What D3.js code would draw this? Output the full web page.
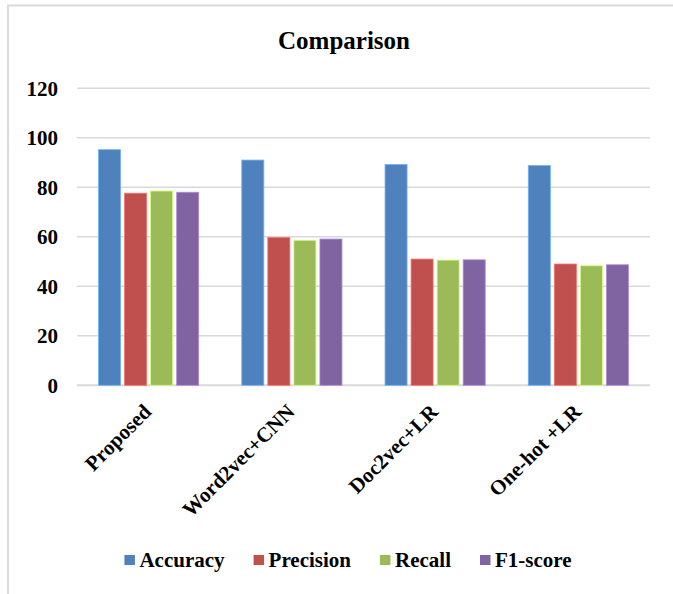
<!DOCTYPE html>
<html>
<head>
<meta charset="utf-8">
<script src="https://cdn.jsdelivr.net/npm/d3@7"></script>
<style>
  html, body { margin: 0; padding: 0; background: #fff; }
  svg { display: block; }
</style>
</head>
<body>
<svg id="chart" width="673" height="594"></svg>
<script>
// Methods compared, metric names and scores (%)
const categories = ["Proposed", "Word2vec+CNN", "Doc2vec+LR", "One-hot +LR"];
const seriesNames = ["Accuracy", "Precision", "Recall", "F1-score"];
const accuracy  = [95.2, 91.0, 89.2, 88.8];
const precision = [77.6, 59.7, 51.0, 49.0];
const recall    = [78.5, 58.6, 50.6, 48.3];
const f1score   = [78.0, 59.1, 50.7, 48.7];
const yTicks = [0, 20, 40, 60, 80, 100, 120];
const colors = ["#4F81BD", "#C0504D", "#9BBB59", "#8064A2"];

const seriesValues = [accuracy, precision, recall, f1score];
const FONT = "'Liberation Serif', Tinos, 'Times New Roman', 'DejaVu Serif', serif";

const svg = d3.select("#chart")
  .attr("font-family", FONT)
  .attr("font-weight", "bold");
const W = 673, H = 594;

// outer frame
svg.append("rect")
  .attr("x", 8).attr("y", 5.5)
  .attr("width", W + 10).attr("height", H + 10)
  .attr("fill", "#fff")
  .attr("stroke", "#d9d9d9").attr("stroke-width", 2);

// title
svg.append("text")
  .attr("x", 344).attr("y", 49)
  .attr("text-anchor", "middle")
  .attr("font-size", 25)
  .text("Comparison");

const plot = { left: 77, right: 650, top: 88.3, bottom: 385.3 };

const y = d3.scaleLinear().domain([0, 120]).range([plot.bottom, plot.top]);
const x0 = d3.scaleBand().domain(categories).range([plot.left, plot.right]).padding(0);
const x1 = d3.scaleBand().domain(seriesNames).range([0, x0.bandwidth()])
  .paddingInner(0).paddingOuter(0.75);

// horizontal gridlines
svg.append("g").selectAll("line")
  .data(yTicks)
  .join("line")
  .attr("x1", plot.left).attr("x2", plot.right)
  .attr("y1", d => y(d)).attr("y2", d => y(d))
  .attr("stroke", "#d9d9d9")
  .attr("stroke-width", d => d === 0 ? 2 : 1.6);

// y axis labels
const yAxis = d3.axisLeft(y).tickValues(yTicks).tickSize(0).tickPadding(0);
const yg = svg.append("g")
  .attr("transform", `translate(${plot.left - 19},0)`)
  .call(yAxis)
  .attr("font-family", FONT)
  .attr("font-size", 21)
  .attr("font-weight", "bold");
yg.select(".domain").remove();
yg.selectAll("text")
  .attr("fill", "#000")
  .attr("dy", "0.34em");

// bars
const inset = 2;
const groups = svg.append("g").selectAll("g")
  .data(categories)
  .join("g")
  .attr("transform", d => `translate(${x0(d)},0)`);

groups.selectAll("rect")
  .data((c, ci) => seriesNames.map((s, si) => ({ s, si, v: seriesValues[si][ci] })))
  .join("rect")
  .attr("x", d => x1(d.s) + inset)
  .attr("width", x1.bandwidth() - inset * 2)
  .attr("y", d => y(d.v))
  .attr("height", d => y(0) - y(d.v))
  .attr("fill", d => colors[d.si])
  .attr("stroke", d => d3.color(colors[d.si]).brighter(0.9))
  .attr("stroke-width", 0.8);

// category labels, rotated
svg.append("g").selectAll("text")
  .data(categories)
  .join("text")
  .attr("transform", d => `translate(${x0(d) + x0.bandwidth() / 2 + 4},413) rotate(-45)`)
  .attr("text-anchor", "end")
  .attr("font-size", 21)
  .text(d => d);

// legend
const legend = svg.append("g");
const items = legend.selectAll("g")
  .data(seriesNames)
  .join("g");
items.append("rect")
  .attr("y", 555).attr("width", 10.5).attr("height", 10)
  .attr("fill", (d, i) => colors[i]);
items.append("text")
  .attr("x", 15).attr("y", 566.5)
  .attr("font-size", 21)
  .text(d => d);

let cursor = 0;
const gap = 29;
items.each(function () {
  const t = d3.select(this).select("text").node().getComputedTextLength();
  d3.select(this).attr("transform", `translate(${cursor},0)`);
  cursor += 15 + t + gap;
});
const total = cursor - gap;
legend.attr("transform", `translate(${348 - total / 2},0)`);
</script>
</body>
</html>
